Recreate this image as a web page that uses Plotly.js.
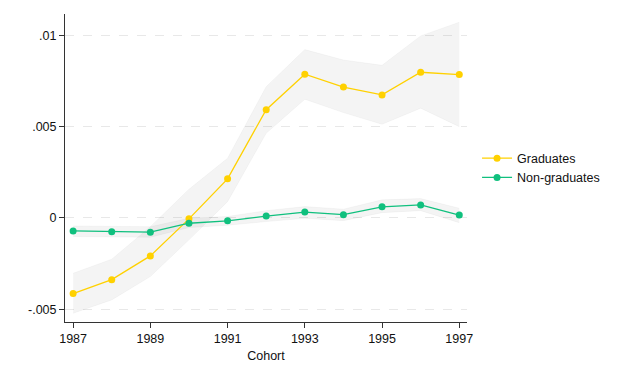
<!DOCTYPE html>
<html>
<head>
<meta charset="utf-8">
<script src="https://cdn.plot.ly/plotly-3.0.1.min.js"></script>
<style>html,body{margin:0;padding:0;background:#fff;}#chart{width:630px;height:378px;}</style>
</head>
<body>
<div id="chart"></div>
<script>
const cohorts = [1987,1988,1989,1990,1991,1992,1993,1994,1995,1996,1997];
const gradEst   = [-0.00414,-0.00338,-0.00208,-0.00005,0.00214,0.00593,0.00787,0.00717,0.00674,0.00798,0.00785];
const gradUpper = [-0.00303,-0.00226,-0.00048,0.00157,0.00327,0.00719,0.00922,0.00865,0.00836,0.00997,0.01072];
const gradLower = [-0.00522,-0.00449,-0.00321,-0.00120,0.00089,0.00464,0.00650,0.00577,0.00513,0.00601,0.00500];
const nonEst    = [-0.00071,-0.00075,-0.00078,-0.00029,-0.00016,0.00010,0.00032,0.00018,0.00061,0.00071,0.00016];
const nonUpper  = [-0.00044,-0.00046,-0.00048,-0.00002,0.00008,0.00040,0.00062,0.00048,0.00099,0.00106,0.00053];
const nonLower  = [-0.00102,-0.00104,-0.00106,-0.00053,-0.00040,-0.00020,-0.00002,-0.00015,0.00029,0.00040,-0.00026];
const xTicks = [1987,1989,1991,1993,1995,1997];
const yTickVals = [-0.005,0,0.005,0.01];
const yTickText = ["-.005","0",".005",".01"];

const gold = "#FFD100";
const green = "#10C07E";
const bandFill = "rgba(0,0,0,0.045)";
const bandLine = "rgba(0,0,0,0.03)";

function band(lower, upper) {
  return [
    {x: cohorts, y: lower, mode: "lines", line: {width: 1, color: bandLine}, showlegend: false, hoverinfo: "skip"},
    {x: cohorts, y: upper, mode: "lines", line: {width: 1, color: bandLine}, fill: "tonexty", fillcolor: bandFill, showlegend: false, hoverinfo: "skip"}
  ];
}

const data = [
  ...band(gradLower, gradUpper),
  ...band(nonLower, nonUpper),
  {x: cohorts, y: gradEst, name: "Graduates", mode: "lines+markers", line: {color: gold, width: 1.3}, marker: {color: gold, size: 7}},
  {x: cohorts, y: nonEst, name: "Non-graduates", mode: "lines+markers", line: {color: green, width: 1.3}, marker: {color: green, size: 7}}
];

const layout = {
  width: 630, height: 378,
  margin: {l: 64.5, r: 163, t: 14, b: 56},
  paper_bgcolor: "#fff", plot_bgcolor: "#fff",
  font: {family: "Liberation Sans, Arial, sans-serif", size: 12.5, color: "#111"},
  xaxis: {
    range: [1986.79, 1997.2], tickvals: xTicks, ticktext: xTicks.map(String),
    showgrid: false, zeroline: false, showline: true, linecolor: "#333", linewidth: 1,
    ticks: "outside", ticklen: 5, tickcolor: "#333",
    title: {text: "Cohort", font: {size: 12.5}, standoff: 6}
  },
  yaxis: {
    range: [-0.0057, 0.01117], tickvals: yTickVals, ticktext: yTickText,
    showgrid: true, gridcolor: "#e8e8e8", griddash: "dash", gridwidth: 1,
    zeroline: false, showline: true, linecolor: "#333", linewidth: 1,
    ticks: "outside", ticklen: 5, tickcolor: "#333"
  },
  legend: {x: 1.025, xanchor: "left", y: 0.5, yanchor: "middle", traceorder: "normal", font: {size: 12.5}, bgcolor: "rgba(0,0,0,0)", tracegroupgap: 0},
  showlegend: true
};

Plotly.newPlot("chart", data, layout, {displayModeBar: false, staticPlot: true});
</script>
</body>
</html>
